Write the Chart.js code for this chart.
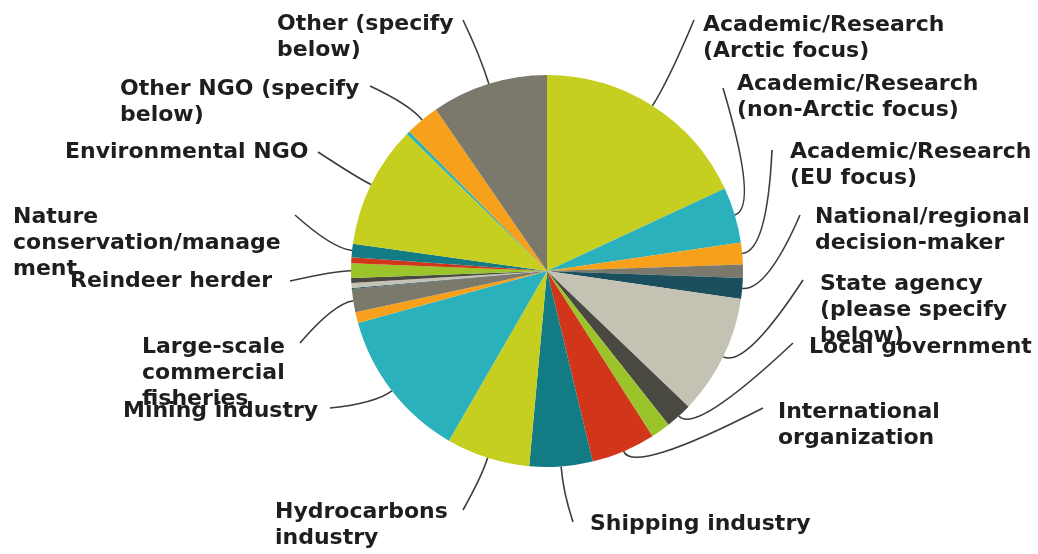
<!DOCTYPE html>
<html>
<head>
<meta charset="utf-8">
<script src="https://cdn.jsdelivr.net/npm/chart.js@4.4.0/dist/chart.umd.min.js"></script>
<style>
html, body { margin: 0; padding: 0; background: #fff; }
#wrap { width: 1038px; height: 554px; }
</style>
</head>
<body>
<div id="wrap"><canvas id="chart" width="1038" height="554"></canvas></div>
<script>
// slices clockwise from 12 o'clock, '\n' marks where the label wraps
const categories = [
    'Academic/Research\n(Arctic focus)',
    'Academic/Research\n(non-Arctic focus)',
    'Academic/Research\n(EU focus)',
    '',
    'National/regional\ndecision-maker',
    'State agency\n(please specify\nbelow)',
    'Local government',
    '',
    'International\norganization',
    'Shipping industry',
    'Hydrocarbons\nindustry',
    'Mining industry',
    '',
    'Large-scale\ncommercial\nfisheries',
    '',
    '',
    '',
    'Reindeer herder',
    '',
    'Nature\nconservation/manage\nment',
    'Environmental NGO',
    '',
    'Other NGO (specify\nbelow)',
    'Other (specify\nbelow)'
];

// share of respondents, %
const shares = [18.1, 4.6, 1.8, 1.1, 1.7, 9.9, 2.2, 1.6, 5.3, 5.2, 6.9, 12.4,
                0.9, 1.9, 0.1, 0.4, 0.4, 1.2, 0.5, 1.1, 10.1, 0.3, 2.8, 9.6];

// colour cycle used by the original
const palette = ['#c6cf1f', '#2bb1bc', '#f6a01b', '#7b796b', '#1c4f5e',
                 '#c4c2b2', '#4a4941', '#9bc42b', '#d2361a', '#137b84'];

// where each visible label sits and where its leader line meets it
const labelLayout = [
    { index: 0,  x: 703, y: 31,  ax: 694, ay: 20,  out: 30 },
    { index: 1,  x: 737, y: 90,  ax: 723, ay: 88,  out: 25 },
    { index: 2,  x: 790, y: 158, ax: 772, ay: 150, out: 25 },
    { index: 4,  x: 815, y: 223, ax: 800, ay: 215, out: 25 },
    { index: 5,  x: 820, y: 290, ax: 803, ay: 280, out: 25 },
    { index: 6,  x: 809, y: 353, ax: 793, ay: 343, out: 25 },
    { index: 8,  x: 778, y: 418, ax: 763, ay: 408, out: 25 },
    { index: 9,  x: 590, y: 530, ax: 573, ay: 522, out: 25 },
    { index: 10, x: 275, y: 518, ax: 463, ay: 510, out: 20 },
    { index: 11, x: 123, y: 417, ax: 330, ay: 408, out: 20 },
    { index: 13, x: 142, y: 353, ax: 300, ay: 343, out: 20 },
    { index: 17, x: 70,  y: 287, ax: 290, ay: 281, out: 15 },
    { index: 19, x: 13,  y: 223, ax: 295, ay: 215, out: 20 },
    { index: 20, x: 65,  y: 158, ax: 318, ay: 152, out: 15 },
    { index: 22, x: 120, y: 95,  ax: 370, ay: 86,  out: 20 },
    { index: 23, x: 277, y: 30,  ax: 463, ay: 20,  out: 30 }
];

const lineHeight = 26;

const leaderPlugin = {
    id: 'leaders',
    afterDatasetsDraw: function (chart) {
        const ctx = chart.ctx;
        const arcs = chart.getDatasetMeta(0).data;

        ctx.save();
        ctx.strokeStyle = '#3c3c3c';
        ctx.lineWidth = 1.6;
        labelLayout.forEach(function (l) {
            const p = arcs[l.index].getProps(['x', 'y', 'startAngle', 'endAngle', 'outerRadius'], true);
            const mid = (p.startAngle + p.endAngle) / 2;
            const cos = Math.cos(mid);
            const sin = Math.sin(mid);
            ctx.beginPath();
            ctx.moveTo(p.x + cos * p.outerRadius, p.y + sin * p.outerRadius);
            ctx.quadraticCurveTo(p.x + cos * (p.outerRadius + l.out), p.y + sin * (p.outerRadius + l.out), l.ax, l.ay);
            ctx.stroke();
        });

        ctx.fillStyle = '#1e1e1e';
        ctx.font = 'bold 22px "DejaVu Sans"';
        ctx.textBaseline = 'alphabetic';
        ctx.textAlign = 'left';
        labelLayout.forEach(function (l) {
            const lines = categories[l.index].split('\n');
            for (let i = 0; i < lines.length; i++) {
                ctx.fillText(lines[i], l.x, l.y + i * lineHeight);
            }
        });
        ctx.restore();
    }
};

new Chart(document.getElementById('chart'), {
    type: 'pie',
    data: {
        labels: categories,
        datasets: [{
            data: shares,
            backgroundColor: categories.map(function (c, i) { return palette[i % palette.length]; }),
            borderWidth: 0
        }]
    },
    options: {
        responsive: false,
        animation: false,
        layout: { padding: { left: 351, right: 295, top: 75, bottom: 87 } },
        plugins: {
            legend: { display: false },
            tooltip: { enabled: false }
        }
    },
    plugins: [leaderPlugin]
});
</script>
</body>
</html>
